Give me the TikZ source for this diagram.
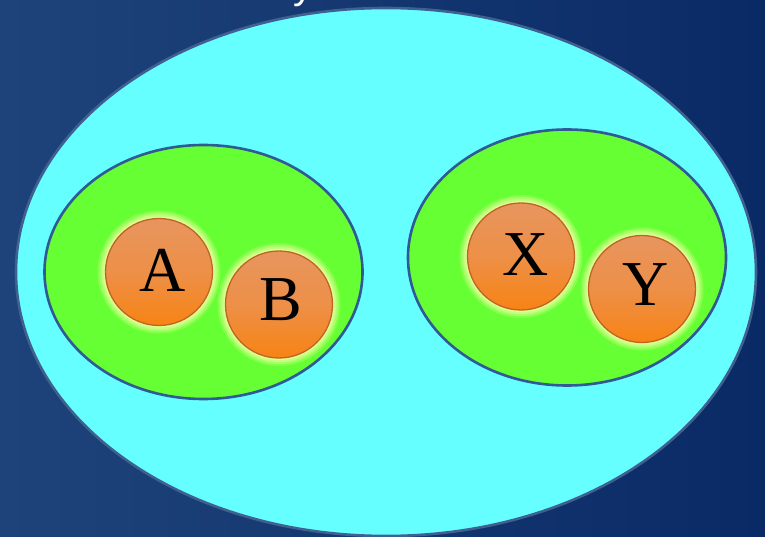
\documentclass[tikz,border=0pt]{standalone}
\usepackage{fontspec}
\setmainfont{Liberation Serif}
\newfontfamily\topfont{Liberation Sans}
\definecolor{bgleft}{HTML}{1E437A}
\definecolor{bgright}{HTML}{0A2A66}
\definecolor{cyanfill}{HTML}{66FFFF}
\definecolor{greenfill}{HTML}{66FF33}
\definecolor{rimblue}{HTML}{2F5A96}
\definecolor{orangetop}{HTML}{E8955E}
\definecolor{orangebot}{HTML}{F88314}
\definecolor{orangerim}{HTML}{BF6424}
\definecolor{glowcol}{HTML}{E6FF9A}
\tikzset{
  outerset/.style={draw=rimblue!80!gray, line width=2.6pt, fill=cyanfill},
  innerset/.style={draw=rimblue, line width=2.6pt, fill=greenfill},
  ball/.style={circle, minimum size=107pt, inner sep=0pt, draw=orangerim, line width=1.3pt,
    top color=orangetop, bottom color=orangebot, middle color=orangetop!70!orangebot},
  glowring/.style={circle, inner sep=0pt, draw=none, fill=glowcol},
  letter/.style={font=\fontsize{64}{64}\selectfont, text=black, inner sep=0pt}
}
\newcommand{\glowat}[2]{%
  \node[glowring, minimum size=123pt, opacity=0.25] (#1g1) at #2 {};
  \node[glowring, minimum size=119pt, opacity=0.35] (#1g2) at #2 {};
  \node[glowring, minimum size=115pt, opacity=0.5] (#1g3) at #2 {};
  \node[glowring, minimum size=111pt, opacity=0.7] (#1g4) at #2 {};
}
\begin{document}
\begin{tikzpicture}[x=1pt,y=-1pt]
\useasboundingbox (0,0) rectangle (765,537);
\shade[left color=bgleft, right color=bgright] (0,0) rectangle (765,537);
\node[white, font=\topfont\fontsize{40}{40}\selectfont, anchor=base, inner sep=0pt] (ytail) at (303,-1) {y};
% universe
\path[outerset] (386,272) ellipse [x radius=370, y radius=264];
% inner sets
\path[innerset] (203.5,272) ellipse [x radius=159, y radius=127];
\path[innerset] (567,257.5) ellipse [x radius=159, y radius=128];
% glows
\glowat{a}{(159,272)}
\glowat{b}{(279,304.5)}
\glowat{x}{(521,256.5)}
\glowat{y}{(642,289)}
% balls
\node[ball] (a) at (159,272) {};
\node[ball] (b) at (279,304.5) {};
\node[ball] (x) at (521,256.5) {};
\node[ball] (y) at (642,289) {};
% letters
\node[letter] (la) at (163,270) {A};
\node[letter] (lb) at (281,300) {B};
\node[letter] (lx) at (526,255) {X};
\node[letter] (ly) at (646,285) {Y};
\end{tikzpicture}
\end{document}
